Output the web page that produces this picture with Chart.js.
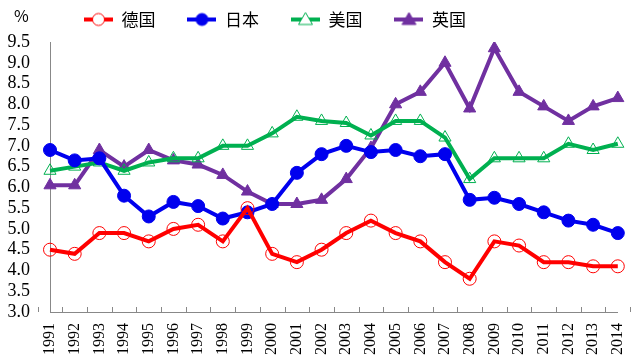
<!DOCTYPE html>
<html>
<head>
<meta charset="UTF-8" />
<title>chart</title>
<script src="https://cdn.jsdelivr.net/npm/chart.js@4/dist/chart.umd.min.js"></script>
<style>
body { margin:0; background:#fff; }
#wrap { width:640px; height:363px; }
</style>
</head>
<body>
<div id="wrap"><canvas id="canvas"></canvas></div>
<script>
var years = ['1991','1992','1993','1994','1995','1996','1997','1998','1999','2000','2001','2002',
             '2003','2004','2005','2006','2007','2008','2009','2010','2011','2012','2013','2014'];
var germany = [4.5,4.4,4.9,4.9,4.7,5.0,5.1,4.7,5.5,4.4,4.2,4.5,4.9,5.2,4.9,4.7,4.2,3.8,4.7,4.6,4.2,4.2,4.1,4.1];
var japan   = [6.9,6.65,6.7,5.8,5.3,5.65,5.55,5.25,5.4,5.6,6.35,6.8,7.0,6.85,6.9,6.75,6.8,5.7,5.75,5.6,5.4,5.2,5.1,4.9];
var usa     = [6.4,6.5,6.6,6.4,6.6,6.7,6.7,7.0,7.0,7.3,7.7,7.6,7.55,7.25,7.6,7.6,7.2,6.2,6.7,6.7,6.7,7.05,6.9,7.05];
var uk      = [6.05,6.05,6.9,6.5,6.9,6.65,6.55,6.3,5.9,5.6,5.6,5.7,6.2,6.95,8.0,8.3,9.0,7.9,9.35,8.3,7.95,7.6,7.95,8.15];
var names   = ['德国','日本','美国','英国'];

var numFont = "'Liberation Serif', 'DejaVu Serif', serif";
var cjkFont = "'Noto Sans CJK SC', sans-serif";
var SW = 29; // legend swatch width

// legend swatch: line + marker, drawn on a small canvas
function swatch(color, style, filled) {
    var c = document.createElement('canvas');
    c.width = SW; c.height = 18;
    var g = c.getContext('2d');
    var m = SW / 2;
    g.strokeStyle = color; g.lineWidth = 4;
    g.beginPath(); g.moveTo(0, 9); g.lineTo(SW, 9); g.stroke();
    g.lineWidth = 1;
    g.fillStyle = filled ? color : '#fff';
    g.beginPath();
    if (style == 'circle') {
        g.arc(m, 9, 6, 0, Math.PI * 2);
    } else {
        g.moveTo(m, 2); g.lineTo(m + 7, 14); g.lineTo(m - 7, 14); g.closePath();
    }
    g.fill(); g.stroke();
    return c;
}

var series = [
    { data: germany, color: '#ff0000', style: 'circle',   filled: false, r: 6.5 },
    { data: japan,   color: '#0000ee', style: 'circle',   filled: true,  r: 6.5 },
    { data: usa,     color: '#00b050', style: 'triangle', filled: false, r: 7 },
    { data: uk,      color: '#7030a0', style: 'triangle', filled: true,  r: 7 }
];

var datasets = series.map(function (s, i) {
    return {
        label: names[i],
        data: s.data,
        borderColor: s.color,
        backgroundColor: s.color,
        borderWidth: 4,
        pointStyle: s.style,
        pointRadius: s.r,
        pointBorderWidth: 1,
        pointBorderColor: s.color,
        pointBackgroundColor: s.filled ? s.color : 'rgba(0,0,0,0)',
        tension: 0,
        _swatch: swatch(s.color, s.style, s.filled)
    };
});

var extras = {
    id: 'extras',
    beforeLayout: function (chart) {
        // fixed legend band height
        var lg = chart.legend;
        if (lg && !lg._thin) {
            var fit = lg.fit;
            lg.fit = function () { fit.call(this); this.height = 42; };
            lg._thin = true;
        }
    },
    beforeDraw: function (chart) {
        var lg = chart.legend;
        lg.left = 52;
        lg.top = -21;
    },
    afterDraw: function (chart) {
        var ctx = chart.ctx;
        var x = chart.scales.x, a = chart.chartArea;
        ctx.save();
        ctx.strokeStyle = '#888'; ctx.lineWidth = 1;
        var half = (x.getPixelForValue(1) - x.getPixelForValue(0)) / 2;
        for (var i = 0; i <= years.length; i++) {
            var px = Math.round(x.getPixelForValue(i) - half) + 0.5;
            ctx.beginPath(); ctx.moveTo(px, a.bottom); ctx.lineTo(px, a.bottom - 5); ctx.stroke();
        }
        ctx.fillStyle = '#000';
        ctx.font = "16px " + cjkFont;
        ctx.textAlign = 'left'; ctx.textBaseline = 'middle';
        ctx.fillText('%', 14, 16);
        ctx.restore();
    }
};

new Chart(document.getElementById('canvas'), {
    type: 'line',
    data: { labels: years, datasets: datasets },
    plugins: [extras],
    options: {
        responsive: true,
        maintainAspectRatio: false,
        animation: false,
        layout: { padding: { top: 0, right: 11, left: 0, bottom: 0 } },
        plugins: {
            tooltip: { enabled: false },
            legend: {
                position: 'top',
                align: 'start',
                labels: {
                    usePointStyle: true,
                    pointStyleWidth: SW,
                    boxHeight: 18,
                    padding: 32,
                    color: '#000',
                    font: { family: cjkFont, size: 17 },
                    generateLabels: function (chart) {
                        return chart.data.datasets.map(function (ds, i) {
                            return {
                                text: ds.label,
                                pointStyle: ds._swatch,
                                fillStyle: ds.borderColor,
                                strokeStyle: ds.borderColor,
                                lineWidth: 0,
                                datasetIndex: i,
                                fontColor: '#000'
                            };
                        });
                    }
                }
            }
        },
        scales: {
            x: {
                grid: { display: false },
                border: { color: '#888', width: 1 },
                ticks: {
                    color: '#000',
                    minRotation: 90, maxRotation: 90,
                    autoSkip: false,
                    font: { family: numFont, size: 16 }
                },
                afterFit: function (s) { s.height = 51; }
            },
            y: {
                min: 3, max: 9.5,
                grid: { display: false },
                border: { color: '#888', width: 1 },
                ticks: {
                    stepSize: 0.5,
                    autoSkip: false,
                    color: '#000',
                    padding: 12,
                    font: { family: numFont, size: 18 },
                    callback: function (v) { return v.toFixed(1); }
                },
                afterFit: function (s) { s.width = 50; }
            }
        }
    }
});
</script>
</body>
</html>
